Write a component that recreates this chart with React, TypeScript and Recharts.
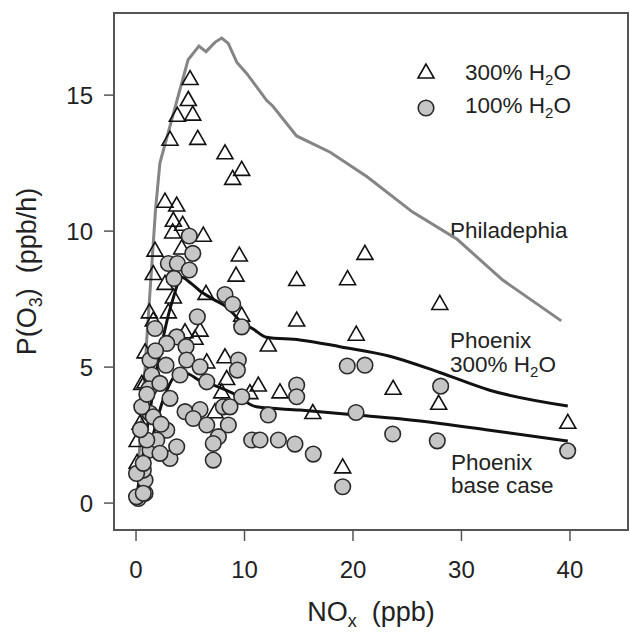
import React from "react";
import {
  ComposedChart,
  Scatter,
  Line,
  XAxis,
  YAxis,
  ReferenceArea,
  Customized,
} from "recharts";

// NOx (ppb), P(O3) (ppb/h) pairs
const tri300: [number, number][] = [
  [4.98, 15.61], [4.82, 14.84], [3.81, 14.26], [5.23, 14.3], [3.13, 13.38],
  [5.69, 13.41], [8.2, 12.88], [9.74, 12.27], [8.91, 11.94], [2.67, 11.1],
  [3.75, 10.96], [3.44, 10.4], [4.3, 10.25], [3.38, 9.97], [6.2, 9.85],
  [1.75, 9.3], [4.21, 9.38], [9.52, 9.12], [1.59, 8.44], [9.22, 8.38],
  [2.67, 8.08], [14.81, 8.22], [3.44, 7.58], [6.45, 7.71], [1.23, 7.03],
  [2.98, 7.03], [9.74, 6.91], [1.59, 6.73], [14.81, 6.73], [5.9, 6.36],
  [4.52, 6.3], [5.44, 6.06], [12.19, 5.81], [0.83, 5.56], [8.2, 5.38],
  [6.52, 5.19], [0.83, 4.46], [8.36, 4.58], [0.53, 4.4], [7.9, 4.09],
  [10.5, 4.06], [11.27, 4.34], [13.27, 4.09], [7.28, 3.36], [0.37, 2.94],
  [0.1, 2.3], [0.1, 1.5], [21.1, 9.18], [19.5, 8.25], [28.0, 7.34],
  [20.3, 6.21], [23.7, 4.22], [27.9, 3.67], [16.3, 3.33], [39.8, 2.97],
  [19.05, 1.33],
];

const circ100: [number, number][] = [
  [4.91, 9.82], [5.23, 9.18], [2.98, 8.81], [3.81, 8.81], [4.91, 8.57],
  [3.5, 8.26], [8.2, 7.67], [8.91, 7.31], [5.65, 6.85], [9.74, 6.48],
  [1.75, 6.42], [3.75, 6.11], [2.83, 5.87], [4.61, 5.75], [1.29, 5.26],
  [4.67, 5.26], [2.76, 5.07], [5.9, 5.01], [9.43, 5.26], [9.34, 4.89],
  [1.45, 4.71], [4.06, 4.71], [6.52, 4.46], [14.81, 4.34], [1.2, 4.2],
  [9.74, 3.91], [14.81, 3.91], [4.52, 3.36], [5.9, 3.44], [5.28, 3.11],
  [8.05, 3.54], [8.66, 3.54], [6.52, 2.87], [8.51, 2.87], [7.59, 2.44],
  [7.12, 2.19], [12.19, 3.24], [10.66, 2.32], [11.43, 2.32], [13.12, 2.32],
  [14.65, 2.17], [7.12, 1.58], [3.13, 1.64], [3.75, 2.07], [2.83, 2.68],
  [1.29, 3.3], [0.83, 0.36], [0.21, 0.17], [0.05, 0.23], [0.83, 0.85],
  [0.67, 1.21], [0.05, 1.09], [1.29, 1.95], [1.91, 2.32], [19.47, 5.04],
  [21.1, 5.07], [28.08, 4.3], [20.28, 3.33], [23.66, 2.54], [27.77, 2.29],
  [39.79, 1.92], [19.05, 0.6], [16.34, 1.8], [3.13, 3.85], [0.53, 3.54],
  [1.59, 3.17], [0.99, 2.32], [2.21, 1.83], [0.67, 1.46], [0.67, 0.36],
  [0.4, 2.7], [1.0, 4.0], [2.2, 4.4], [1.8, 5.6], [2.3, 2.9],
];

const philadelphia: [number, number][] = [
  [0.1, 0.8], [0.67, 3.8], [0.99, 6.0], [1.8, 10.8], [2.2, 12.5],
  [4.8, 16.3], [5.8, 16.8], [6.45, 16.6], [7.3, 16.95], [7.9, 17.1],
  [8.5, 16.9], [9.3, 16.2], [10.2, 15.8], [12.05, 14.8], [12.6, 14.6],
  [14.8, 13.5], [17.9, 12.9], [21.3, 12.0], [25.5, 10.7], [29.6, 9.7],
  [33.8, 8.2], [39.2, 6.7],
];

const phoenix300: [number, number][] = [
  [0.06, 0.23], [3.4, 7.5], [4.2, 8.3], [5.0, 8.1], [5.9, 7.8],
  [7.1, 7.5], [8.4, 7.2], [9.6, 6.7], [10.8, 6.4], [12.0, 6.1],
  [15.1, 6.0], [18.8, 5.75], [23.4, 5.4], [28.0, 4.8], [32.6, 4.15],
  [39.8, 3.57],
];

const phoenixBase: [number, number][] = [
  [0.1, 0.2], [1.3, 2.07], [2.5, 3.8], [4.05, 4.8], [4.7, 4.77],
  [5.9, 4.5], [7.4, 4.3], [8.9, 4.04], [11.1, 3.54], [15.1, 3.42],
  [20.3, 3.24], [24.3, 3.1], [32.6, 2.68], [39.8, 2.28],
];

const xTicks = [0, 10, 20, 30, 40];
const yTicks = [0, 5, 10, 15];

const toPts = (arr: [number, number][]) => arr.map(([x, y]) => ({ x, y }));

const FONT = '"Liberation Sans", Arial, Helvetica, sans-serif';
const TXT = "#222";

const Triangle = (props: any) => {
  const { cx, cy } = props;
  if (cx == null || cy == null) return <g />;
  return (
    <path
      d={`M${cx},${cy - 8} L${cx - 8},${cy + 6} L${cx + 8},${cy + 6} Z`}
      fill="none"
      stroke="#111"
      strokeWidth={1.6}
    />
  );
};

const Dot = (props: any) => {
  const { cx, cy } = props;
  if (cx == null || cy == null) return <g />;
  return <circle cx={cx} cy={cy} r={7.8} fill="#c6c6c6" stroke="#2a2a2a" strokeWidth={1.6} />;
};

const H2O = ({ pre }: { pre: string }) => (
  <>
    <tspan>{pre}H</tspan>
    <tspan dy={5} fontSize={15}>2</tspan>
    <tspan dy={-5}>O</tspan>
  </>
);

const Annotations = () => (
  <g fontFamily={FONT} fill={TXT} fontSize={22.5}>
    <path d="M426,64 L418,78 L434,78 Z" fill="none" stroke="#111" strokeWidth={1.6} />
    <circle cx={426} cy={108} r={7.8} fill="#c6c6c6" stroke="#2a2a2a" strokeWidth={1.6} />
    <text x={465} y={80}><H2O pre="300% " /></text>
    <text x={465} y={113}><H2O pre="100% " /></text>
    <text x={450} y={238}>Philadephia</text>
    <text x={450} y={348}>Phoenix</text>
    <text x={450} y={372}><H2O pre="300% " /></text>
    <text x={451} y={470}>Phoenix</text>
    <text x={451} y={493}>base case</text>
    <text x={371} y={621} textAnchor="middle" fontSize={27}>
      <tspan>NO</tspan>
      <tspan dy={6} fontSize={18}>x</tspan>
      <tspan dy={-6}>{"\u00a0\u00a0(ppb)"}</tspan>
    </text>
    <text
      x={36}
      y={271.5}
      textAnchor="middle"
      fontSize={27}
      transform="rotate(-90 36 271.5)"
    >
      <tspan>P(O</tspan>
      <tspan dy={6} fontSize={18}>3</tspan>
      <tspan dy={-6}>{")\u00a0\u00a0(ppb/h)"}</tspan>
    </text>
  </g>
);

export default function App() {
  const tickStyle = { fill: TXT, fontSize: 24, fontFamily: FONT };
  return (
    <div style={{ position: "absolute", left: 0, top: 0 }}>
      <ComposedChart
        width={630}
        height={632}
        margin={{ top: 13, right: 2, bottom: 0, left: 0 }}
      >
        <XAxis
          dataKey="x"
          type="number"
          domain={[-2.03, 45.35]}
          ticks={xTicks}
          allowDataOverflow
          height={102}
          axisLine={false}
          tickLine={{ stroke: "#555", strokeWidth: 1.5 }}
          tickSize={11}
          tickMargin={20}
          tick={tickStyle}
        />
        <YAxis
          dataKey="y"
          type="number"
          domain={[-0.99, 18.02]}
          ticks={yTicks}
          allowDataOverflow
          width={114}
          axisLine={false}
          tickLine={{ stroke: "#555", strokeWidth: 1.5 }}
          tickSize={10}
          tickMargin={11}
          tick={tickStyle}
        />
        <ReferenceArea
          x1={-2.03}
          x2={45.35}
          y1={-0.99}
          y2={18.02}
          fill="none"
          stroke="#555"
          strokeWidth={2}
          fillOpacity={0}
        />
        <Scatter
          name="300% H2O"
          data={toPts(tri300)}
          shape={Triangle}
          isAnimationActive={false}
        />
        <Scatter
          name="100% H2O"
          data={toPts(circ100)}
          shape={Dot}
          isAnimationActive={false}
        />
        <Line
          name="Philadephia"
          data={toPts(philadelphia)}
          dataKey="y"
          type="linear"
          stroke="#858585"
          strokeWidth={3}
          dot={false}
          activeDot={false}
          isAnimationActive={false}
        />
        <Line
          name="Phoenix 300% H2O"
          data={toPts(phoenix300)}
          dataKey="y"
          type="monotone"
          stroke="#111"
          strokeWidth={3}
          dot={false}
          activeDot={false}
          isAnimationActive={false}
        />
        <Line
          name="Phoenix base case"
          data={toPts(phoenixBase)}
          dataKey="y"
          type="monotone"
          stroke="#111"
          strokeWidth={3}
          dot={false}
          activeDot={false}
          isAnimationActive={false}
        />
        <Customized component={Annotations} />
      </ComposedChart>
    </div>
  );
}
